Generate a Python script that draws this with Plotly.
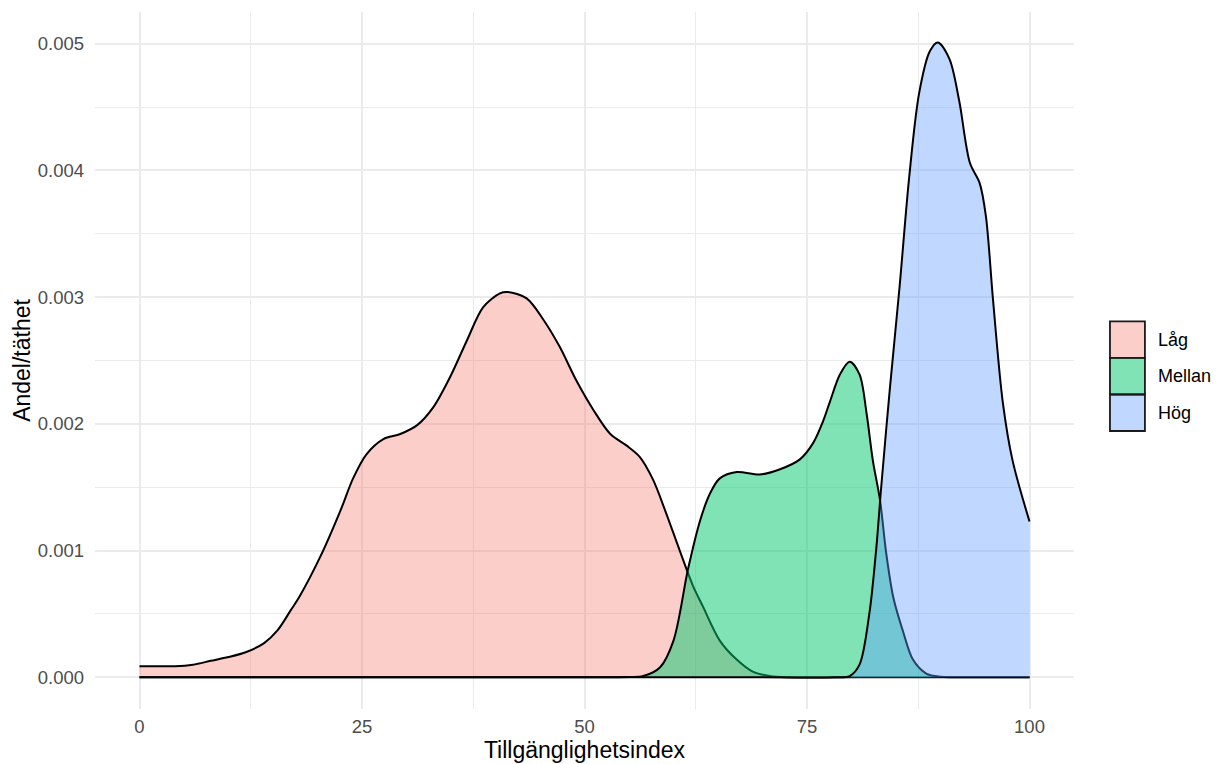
import plotly.graph_objects as go

# ---- data (density values in units of 1e-3) ----
categories = ["Låg", "Mellan", "Hög"]

lag_x = [0, 2, 4, 6, 8, 10, 12, 14, 15.5, 17, 18, 20.3, 22.6, 24, 25.5, 27.4, 29.3, 31.2, 33,
         34.9, 36.8, 38.6, 40.5, 41.4, 43.5, 45.4, 47.2, 49.1, 51, 52.9, 54.7, 56.2, 57.7, 59.2,
         60.7, 62.2, 63.3, 65.2, 67.1, 68.9, 70.8, 73, 80, 90, 100]
lag_y = [0.087, 0.088, 0.088, 0.10, 0.13, 0.16, 0.20, 0.27, 0.37, 0.53, 0.64, 0.95, 1.32, 1.57,
         1.76, 1.88, 1.92, 1.99, 2.13, 2.37, 2.66, 2.92, 3.03, 3.04, 2.99, 2.82, 2.61, 2.34, 2.11,
         1.92, 1.83, 1.74, 1.56, 1.29, 1.00, 0.72, 0.56, 0.29, 0.14, 0.045, 0.01, 0, 0, 0, 0]

mellan_x = [0, 20, 40, 50, 55, 56.6, 58.5, 60, 61.65, 63, 64.1, 65.2, 67.1, 69.7, 71.9, 74.2, 75.7,
            76.8, 77.6, 78.7, 79.8, 80.9, 81.7, 82.4, 83.2, 83.9, 84.7, 85.8, 86.9, 88.4, 90, 95, 100]
mellan_y = [0, 0, 0, 0, 0.002, 0.01, 0.08, 0.29, 0.86, 1.24, 1.45, 1.57, 1.62, 1.60, 1.64, 1.72,
            1.85, 2.02, 2.18, 2.39, 2.49, 2.39, 2.08, 1.71, 1.40, 0.98, 0.63, 0.36, 0.14, 0.03,
            0.005, 0, 0]

hog_x = [0, 20, 40, 60, 70, 78, 79.8, 80.9, 82, 82.8, 83.3, 84.3, 85.4, 86.5, 87.6, 88.8, 89.7,
         91, 92.1, 93.3, 94.4, 95.1, 95.9, 97, 98.1, 100]
hog_y = [0, 0, 0, 0, 0, 0, 0.01, 0.10, 0.50, 1.03, 1.47, 2.27, 3.08, 3.96, 4.61, 4.94, 5.01,
         4.88, 4.55, 4.06, 3.90, 3.64, 2.98, 2.17, 1.71, 1.23]

x_ticks = [0, 25, 50, 75, 100]
y_ticks = [0.000, 0.001, 0.002, 0.003, 0.004, 0.005]
y_tick_labels = ["0.000", "0.001", "0.002", "0.003", "0.004", "0.005"]

fills = ["rgba(248,118,109,0.36)", "rgba(0,200,110,0.5)", "rgba(97,156,255,0.4)"]
series = [(lag_x, lag_y), (mellan_x, mellan_y), (hog_x, hog_y)]

fig = go.Figure()
for name, (xs, ys), fc in zip(categories, series, fills):
    fig.add_trace(go.Scatter(
        x=xs, y=[v * 1e-3 for v in ys], name=name, mode="lines",
        line=dict(color="black", width=2, shape="spline", smoothing=0.9),
        fill="tozeroy", fillcolor=fc, showlegend=False, hoverinfo="x+y+name"))

font_family = "Liberation Sans, Arial, sans-serif"

# figure size / margins (page has an 8px body margin)
OFF = 8
W, H = 1211, 756
ML, MR, MT, MB = 86.5, 144.5, 4.4, 55.3
PW, PH = W - ML - MR, H - MT - MB


def px(xpage):
    return (xpage - OFF - ML) / PW


def py(ypage):
    return 1 - (ypage - OFF - MT) / PH


# manual legend (ggplot-style square keys)
key_left, key_right = 1110.5, 1145.5
key_tops = [321.5, 358.0, 394.5]
key_h = 36.5
for name, fc, top in zip(categories, fills, key_tops):
    fig.add_shape(type="rect", xref="paper", yref="paper",
                  x0=px(key_left), x1=px(key_right), y0=py(top + key_h), y1=py(top),
                  fillcolor=fc, line=dict(color="#1a1a1a", width=1.8), layer="above")
    fig.add_annotation(xref="paper", yref="paper", x=px(1157), y=py(top + key_h / 2),
                       text=name, showarrow=False, xanchor="left", yanchor="middle",
                       font=dict(family=font_family, size=18, color="black"))

fig.update_layout(
    width=W, height=H,
    margin=dict(l=ML, r=MR, t=MT, b=MB, pad=0, autoexpand=False),
    paper_bgcolor="white", plot_bgcolor="white",
    font=dict(family=font_family, color="black"),
    xaxis=dict(range=[-5, 105], tickvals=x_ticks, ticktext=[str(v) for v in x_ticks],
               automargin=False,
               showgrid=True, gridcolor="#EBEBEB", gridwidth=1.6, zeroline=False,
               showline=False, ticks="", ticklabelstandoff=4,
               tickfont=dict(size=18.5, color="#4D4D4D", family=font_family),
               minor=dict(tickvals=[12.5, 37.5, 62.5, 87.5], showgrid=True,
                          gridcolor="#EBEBEB", gridwidth=0.9),
               title=dict(text="Tillgänglighetsindex", standoff=6,
                          font=dict(size=23, color="black", family=font_family))),
    yaxis=dict(range=[-0.00025, 0.00525], tickvals=y_ticks, ticktext=y_tick_labels,
               automargin=False,
               showgrid=True, gridcolor="#EBEBEB", gridwidth=1.6, zeroline=False,
               showline=False, ticks="", ticklabelstandoff=10,
               tickfont=dict(size=18.5, color="#4D4D4D", family=font_family),
               minor=dict(tickvals=[0.0005, 0.0015, 0.0025, 0.0035, 0.0045], showgrid=True,
                          gridcolor="#EBEBEB", gridwidth=0.9),
               title=dict(text="Andel/täthet", standoff=0,
                          font=dict(size=23, color="black", family=font_family))),
)

fig.write_html("out.html")
